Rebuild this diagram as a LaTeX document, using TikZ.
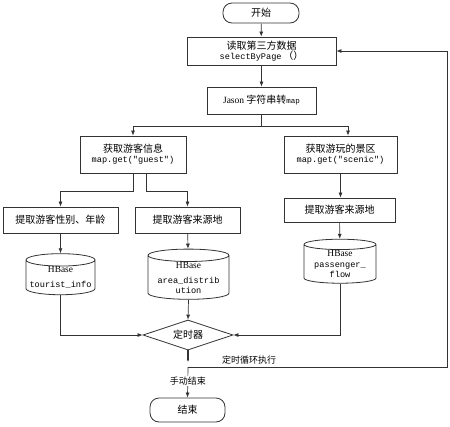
\documentclass[tikz,border=0pt]{standalone}
\usepackage{fontspec}
\setmainfont{Liberation Serif}
\setmonofont{Liberation Mono}
\newfontfamily\cjk{Noto Sans CJK SC}
\usetikzlibrary{arrows.meta,shapes.geometric}

\tikzset{
  box/.style={draw=black!80, line width=0.8pt, fill=white, inner sep=1pt, align=center,
    font=\fontsize{10}{12}\selectfont\cjk},
  term/.style={box, rounded corners=9pt},
  db/.style={cylinder, shape border rotate=90, aspect=0.2, draw=black!80, line width=0.8pt,
    inner sep=0pt, align=center},
  flow/.style={draw=black!80, line width=0.7pt, -{Latex[length=5pt,width=4pt]}},
  code/.style={font=\fontsize{8.6}{10}\selectfont\ttfamily},
}

\begin{document}
\begin{tikzpicture}[x=1pt,y=-1pt]
  \useasboundingbox (0,0) rectangle (450,426);

  % boxes
  \node[term, minimum width=76, minimum height=20] (start) at (261,13) {开始};
  \node[box, minimum width=149, minimum height=28] (read) at (261.5,51)
    {读取第三方数据\\[-2pt]{\fontsize{8.6}{10}\selectfont\ttfamily selectByPage}\,（）};
  \node[box, minimum width=109, minimum height=27] (jason) at (261.5,100.5)
    {{\rmfamily\fontsize{9.5}{11}\selectfont Jason} 字符串转{\fontsize{7.5}{9}\selectfont\ttfamily map}};
  \node[box, minimum width=106, minimum height=37] (guest) at (133,154.5)
    {获取游客信息\\[-2pt]{\fontsize{8.6}{10}\selectfont\ttfamily map.get("guest")}};
  \node[box, minimum width=113, minimum height=37] (scenic) at (340.5,154.5)
    {获取游玩的景区\\[-2pt]{\fontsize{8.6}{10}\selectfont\ttfamily map.get("scenic")}};
  \node[box, minimum width=115, minimum height=26] (gender) at (60.5,220) {提取游客性别、年龄};
  \node[box, minimum width=105, minimum height=26] (origin) at (187.5,220) {提取游客来源地};
  \node[box, minimum width=111, minimum height=24] (origin2) at (339.5,210) {提取游客来源地};

  % hbase tables
  \node[db, minimum width=69, minimum height=39] (tbinfo) at (60.5,277.5)
    {{\fontsize{9.4}{11}\selectfont HBase}\\[3pt]{\fontsize{8.6}{10}\selectfont\ttfamily tourist\_info}};
  \node[db, minimum width=81, minimum height=41] (tbarea) at (188.5,277.5)
    {{\fontsize{9.4}{11}\selectfont HBase}\\[3pt]{\fontsize{8.6}{10}\selectfont\ttfamily area\_distrib}\\[-2pt]{\fontsize{8.6}{10}\selectfont\ttfamily ution}};
  \node[db, minimum width=72, minimum height=44] (tbflow) at (340,264)
    {{\fontsize{9.4}{11}\selectfont HBase}\\[-1pt]{\fontsize{8.6}{10}\selectfont\ttfamily passenger\_}\\[-2pt]{\fontsize{8.6}{10}\selectfont\ttfamily flow}};

  \node[diamond, draw=black!80, line width=0.8pt, aspect=3, inner sep=1pt,
    minimum width=90, minimum height=30, font=\fontsize{10}{12}\selectfont\cjk] (timer) at (188,335) {定时器};
  \node[term, minimum width=75, minimum height=24] (stop) at (187.5,410) {结束};

  \coordinate (loop) at (188,367);

  % connectors
  \draw[flow] (start) -- (read);
  \draw[flow] (read) -- (jason);
  \draw[flow] (jason.south) -- ++(0,12) -| (guest.north);
  \draw[flow] (jason.south) -- ++(0,12) -| ([xshift=7.5]scenic.north);
  \draw[flow] (guest.south) -- ++(0,18) -| (gender.north);
  \draw[flow] ([xshift=13]guest.south) -- ++(0,18) -| (origin.north);
  \draw[flow] (scenic.south) -- (origin2.north -| scenic.south);
  \draw[flow] (gender) -- (tbinfo);
  \draw[flow] (origin) -- (tbarea);
  \draw[flow] (origin2) -- (tbflow);
  \draw[flow] (tbinfo.south) |- (timer.west);
  \draw[flow] (tbarea.south) -- (timer.north);
  \draw[flow] (tbflow.south) |- (timer.east);
  \draw[draw=black!80, line width=1.1pt, -{Latex[length=3pt,width=2.5pt]}] (timer.south) -- ([yshift=5]loop);
  \draw[flow] (loop) -- (stop.north)
    node[pos=0.45, fill=white, inner sep=1pt, font=\fontsize{9}{11}\selectfont\cjk] (manual) {手动结束};
  \draw[flow] (loop) -- (447,367) -- (447,51) -- (read.east);
  \node[anchor=south west, inner sep=1pt, font=\fontsize{9}{11}\selectfont\cjk] (looplbl) at (221,365) {定时循环执行};
\end{tikzpicture}
\end{document}
